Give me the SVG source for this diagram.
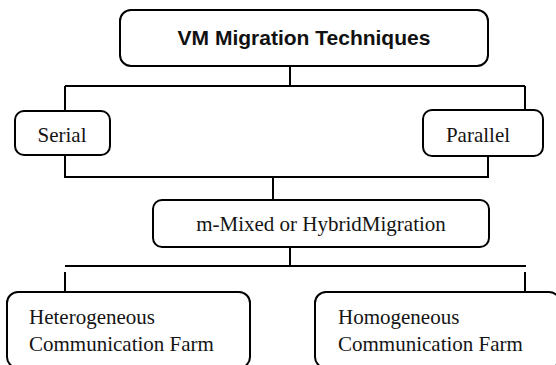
<svg xmlns="http://www.w3.org/2000/svg" width="556" height="365" viewBox="0 0 556 365">
  <style>
    .box { fill: #ffffff; stroke: #000000; stroke-width: 2; }
    .lbl { font-family: "Liberation Serif", "Times New Roman", serif; font-size: 21px; fill: #141414; }
    .title { font-family: "Liberation Sans", Arial, sans-serif; font-size: 21px; font-weight: bold; fill: #111111; }
    .wire { fill: none; stroke: #000000; stroke-width: 2; }
  </style>
  <rect width="556" height="365" fill="#ffffff"/>

  <!-- tree connectors -->
  <g id="connectors">
    <path class="wire" d="M290,66 V86 M65,86 H525 M65,86 V111 M525,86 V110"/>
    <path class="wire" d="M65,155 V177 H488 V156 M273,177 V200"/>
    <path class="wire" d="M290,247 V266 M65,266 H526 M65,272 V292 M525,272 V292"/>
  </g>

  <g id="vm-migration-techniques">
    <rect class="box" x="120" y="10" width="368" height="56" rx="11"/>
    <text class="title" x="304" y="45" text-anchor="middle">VM Migration Techniques</text>
  </g>

  <g id="serial">
    <rect class="box" x="15" y="111" width="95" height="44" rx="9"/>
    <text class="lbl" x="62" y="142" text-anchor="middle">Serial</text>
  </g>

  <g id="parallel">
    <rect class="box" x="423" y="110" width="120" height="46" rx="9"/>
    <text class="lbl" x="478" y="142" text-anchor="middle">Parallel</text>
  </g>

  <g id="mixed-hybrid">
    <rect class="box" x="153" y="200" width="336" height="47" rx="9"/>
    <text class="lbl" x="321" y="231" text-anchor="middle">m-Mixed or HybridMigration</text>
  </g>

  <g id="heterogeneous">
    <rect class="box" x="7" y="292" width="243" height="76" rx="11"/>
    <text class="lbl" x="29" y="324">Heterogeneous</text>
    <text class="lbl" x="29" y="351">Communication Farm</text>
  </g>

  <g id="homogeneous">
    <rect class="box" x="315" y="292" width="245" height="76" rx="11"/>
    <text class="lbl" x="338" y="324">Homogeneous</text>
    <text class="lbl" x="338" y="351">Communication Farm</text>
  </g>
</svg>
